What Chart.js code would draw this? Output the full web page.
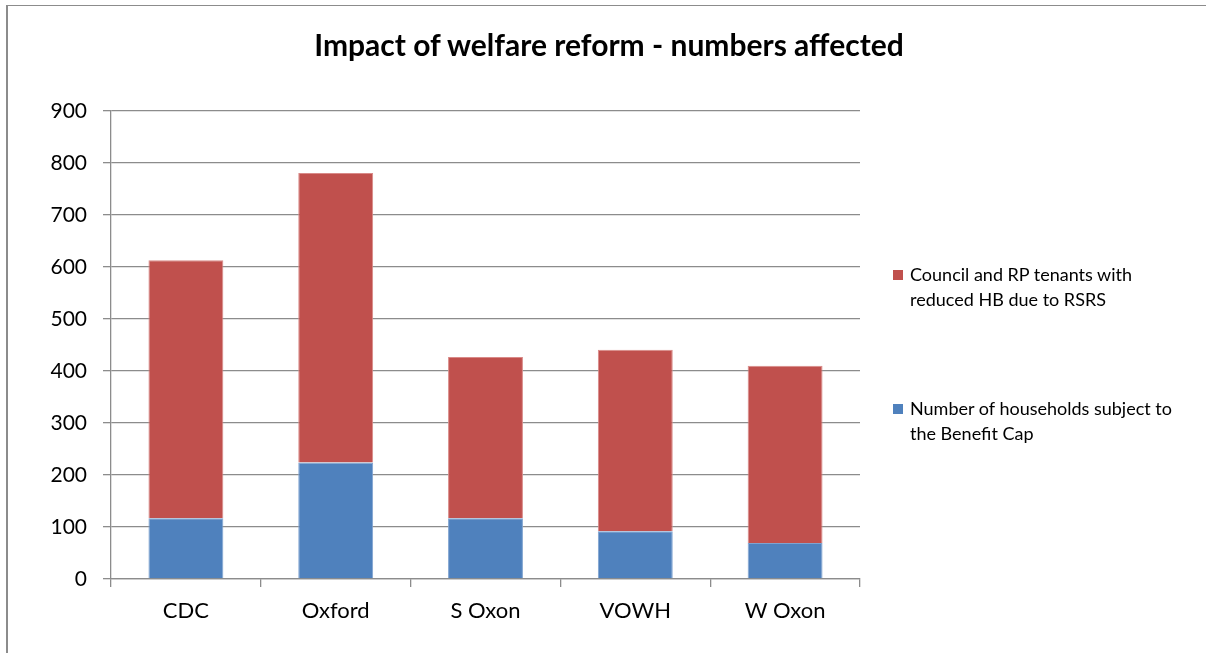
<!DOCTYPE html>
<html>
<head>
<meta charset="utf-8">
<script src="https://cdn.jsdelivr.net/npm/chart.js@4"></script>
<style>
  html, body { margin:0; padding:0; background:#fff; }
  body { width:1206px; height:653px; position:relative; overflow:hidden; font-family:Lato, "Open Sans", sans-serif; }
  #frame { position:absolute; left:6px; top:5px; width:1300px; height:700px; border-left:2px solid #8c8c8c; border-top:1px solid #8c8c8c; }
  #chart-wrap { position:absolute; left:0; top:0; width:1206px; height:653px; }
  #title { position:absolute; left:0; width:1218px; top:26px; text-align:center; font-weight:bold; font-size:30px; color:#000; }
  .leg { position:absolute; left:893px; font-size:18px; line-height:25px; color:#000; }
  .leg i { position:absolute; left:0; top:8px; width:10px; height:10px; }
  .leg span { display:block; padding-left:17px; }
</style>
</head>
<body>
<div id="frame"></div>
<div id="chart-wrap"><canvas id="c"></canvas></div>
<div id="title">Impact of welfare reform - numbers affected</div>
<div id="legend"></div>
<script>
'use strict';

const categories = ['CDC', 'Oxford', 'S Oxon', 'VOWH', 'W Oxon'];
const benefitCap = [117, 224, 117, 92, 69];
const rsrsTenants = [496, 557, 310, 349, 341];
const yTicks = [0, 100, 200, 300, 400, 500, 600, 700, 800, 900];

const legendItems = [
  { lines:['Council and RP tenants with', 'reduced HB due to RSRS'], color:'#C0504D', top:262 },
  { lines:['Number of households subject to', 'the Benefit Cap'], color:'#4F81BD', top:396 },
];

document.getElementById('legend').innerHTML = legendItems.map(l =>
  `<div class="leg" style="top:${l.top}px"><i style="background:${l.color}"></i>${l.lines.map(t => `<span>${t}</span>`).join('')}</div>`
).join('');

new Chart(document.getElementById('c'), {
  type: 'bar',
  data: {
    labels: categories,
    datasets: [
      { label:'Number of households subject to the Benefit Cap', data:benefitCap, backgroundColor:'#4F81BD', borderColor:'#7FA3D0', borderWidth:1 },
      { label:'Council and RP tenants with reduced HB due to RSRS', data:rsrsTenants, backgroundColor:'#C0504D', borderColor:'#D98A88', borderWidth:1 },
    ],
  },
  options: {
    responsive:true, maintainAspectRatio:false, animation:false,
    layout:{ padding:{ left:11, right:346, top:111, bottom:14 } },
    datasets:{ bar:{ categoryPercentage:0.5, barPercentage:1 } },
    plugins:{ legend:{ display:false }, title:{ display:false }, tooltip:{ enabled:false } },
    scales:{
      x:{
        stacked:true,
        grid:{ offset:true, drawOnChartArea:false, drawTicks:true, tickLength:8, color:'#8c8c8c', lineWidth:1.3 },
        border:{ color:'#8c8c8c', width:1.3 },
        ticks:{ color:'#000', font:{ family:'Lato', size:22 }, padding:11 },
        afterFit: s => { s.height = 60; },
      },
      y:{
        stacked:true, min:0, max:900,
        afterBuildTicks: s => { s.ticks = yTicks.map(v => ({ value:v })); },
        grid:{ color:'#8c8c8c', lineWidth:1.3, tickLength:8 },
        border:{ color:'#8c8c8c', width:1.3 },
        ticks:{ color:'#000', font:{ family:'Lato', size:21 }, padding:16 },
        afterFit: s => { s.width = 100; },
      },
    },
  },
});
</script>
</body>
</html>
